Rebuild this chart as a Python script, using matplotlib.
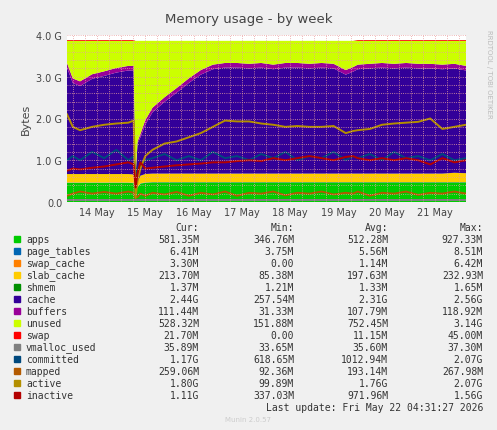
import matplotlib
matplotlib.use("Agg")
import matplotlib.pyplot as plt
import numpy as np

# time in days (day 1 = 14 May)
x = [0.38,0.5,0.65,0.9,1.15,1.4,1.65,1.76,1.8,1.84,1.9,2.0,2.15,2.4,2.65,2.9,3.15,3.4,3.65,3.9,4.15,4.4,4.65,4.9,5.15,5.4,5.65,5.9,6.15,6.3,6.4,6.65,6.9,7.15,7.4,7.65,7.9,8.15,8.4,8.64]
apps =   [0.46,0.46,0.46,0.46,0.46,0.46,0.46,0.45,0.30,0.35,0.44,0.46,0.47,0.47,0.47,0.47,0.47,0.47,0.47,0.47,0.47,0.47,0.47,0.47,0.47,0.47,0.47,0.47,0.47,0.47,0.47,0.47,0.47,0.47,0.47,0.47,0.47,0.47,0.47,0.47]
page_tables = [0.006]*40
swap_cache = [0.003]*40
slab = [0.2,0.2,0.2,0.2,0.2,0.2,0.2,0.2,0.09,0.12,0.18,0.2,0.2,0.2,0.2,0.2,0.2,0.2,0.2,0.2,0.2,0.2,0.2,0.2,0.2,0.2,0.2,0.2,0.2,0.2,0.2,0.2,0.2,0.2,0.2,0.2,0.2,0.2,0.22,0.21]
shmem = [0.0014]*40
cache_top = [3.22,2.85,2.78,2.95,3.02,3.1,3.15,3.15,0.6,1.4,1.55,1.85,2.15,2.4,2.62,2.85,3.05,3.18,3.22,3.22,3.2,3.22,3.18,3.22,3.22,3.2,3.22,3.2,3.05,3.12,3.18,3.2,3.22,3.2,3.22,3.2,3.2,3.18,3.2,3.15]
buffers = [0.11]*8+[0.03,0.05,0.08]+[0.11]*29
total = 3.86
swap = [0.02]*8+[0.0]*22+[0.02]*10
vmalloc = [0.036]*40
committed = [1.0,1.1,1.0,1.2,1.05,1.25,1.0,1.1,0.65,0.8,0.9,1.0,1.05,1.15,1.0,1.1,1.0,1.2,1.05,1.1,1.0,1.15,1.05,1.2,1.0,1.1,1.05,1.2,1.0,1.1,1.05,1.15,1.0,1.2,1.05,1.1,1.0,1.15,1.0,1.05]
mapped = [0.15,0.2,0.25,0.2,0.24,0.2,0.25,0.22,0.1,0.12,0.2,0.15,0.22,0.18,0.24,0.15,0.22,0.18,0.25,0.15,0.22,0.2,0.25,0.16,0.22,0.2,0.25,0.18,0.22,0.2,0.25,0.15,0.22,0.2,0.25,0.17,0.22,0.2,0.25,0.2]
active = [2.1,1.8,1.72,1.8,1.85,1.88,1.9,1.95,0.1,0.5,0.8,1.1,1.25,1.4,1.45,1.55,1.65,1.8,1.95,1.93,1.93,1.88,1.85,1.8,1.82,1.8,1.8,1.82,1.65,1.7,1.72,1.75,1.85,1.88,1.9,1.92,2.0,1.75,1.8,1.85]
inactive = [0.75,0.8,0.78,0.82,0.85,0.9,0.95,0.9,0.35,0.7,0.95,0.8,0.82,0.85,0.88,0.9,0.92,0.95,0.95,0.98,1.0,0.98,1.05,1.0,1.05,1.1,1.05,1.0,1.08,1.1,1.05,1.0,1.05,1.0,1.05,1.0,0.9,1.05,0.95,1.0]

names = ["apps","page_tables","swap_cache","slab_cache","shmem","cache","buffers","unused","swap","vmalloc_used","committed","mapped","active","inactive"]
colors = ["#00cc00","#0066b3","#ff8000","#ffcc00","#008f00","#330099","#990099","#ccff00","#ff0000","#808080","#00487d","#b35a00","#b38f00","#b30000"]
cur = ["581.35M","6.41M","3.30M","213.70M","1.37M","2.44G","111.44M","528.32M","21.70M","35.89M","1.17G","259.06M","1.80G","1.11G"]
mins = ["346.76M","3.75M","0.00","85.38M","1.21M","257.54M","31.33M","151.88M","0.00","33.65M","618.65M","92.36M","99.89M","337.03M"]
avgs = ["512.28M","5.56M","1.14M","197.63M","1.33M","2.31G","107.79M","752.45M","11.15M","35.60M","1012.94M","193.14M","1.76G","971.96M"]
maxs = ["927.33M","8.51M","6.42M","232.93M","1.65M","2.56G","118.92M","3.14G","45.00M","37.30M","2.07G","267.98M","2.07G","1.56G"]
tick_pos = [1,2,3,4,5,6,7,8]
tick_lab = ["14 May","15 May","16 May","17 May","18 May","19 May","20 May","21 May"]

X = np.array(x)
base = np.array(apps)+np.array(page_tables)+np.array(swap_cache)+np.array(slab)+np.array(shmem)
cache = np.clip(np.array(cache_top)-base,0,None)
bufs = np.array(buffers)
unused = total - base - cache - bufs
layers = [apps,page_tables,swap_cache,slab,shmem,cache,bufs,unused,swap]

W,H = 497,431
fig = plt.figure(figsize=(W/100,H/100),dpi=100,facecolor="#f0f0f0")
ax = fig.add_axes([67/W,1-203/H,(466-67)/W,(203-36)/H])
ax.set_facecolor("white")
ax.stackplot(X,*layers,colors=colors[:9],linewidth=0)
for v,c in zip([vmalloc,committed,mapped,active,inactive],colors[9:]):
    ax.plot(X,v,color=c,lw=1.4)
ax.set_xlim(0.38,8.64); ax.set_ylim(0,4.0)
ax.set_xticks(tick_pos); ax.set_xticklabels(tick_lab,fontsize=7,color="#444")
ax.set_yticks([0,1,2,3,4]); ax.set_yticklabels(["0.0","1.0 G","2.0 G","3.0 G","4.0 G"],fontsize=7,color="#444")
ax.set_xticks(np.arange(0.5,8.64,0.25),minor=True)
ax.set_yticks(np.arange(0,4.01,0.2),minor=True)
ax.grid(True,which="both",color="#e8a0a0",ls=":",lw=0.6)
ax.set_axisbelow(False)
ax.tick_params(length=0,which="both")
for s in ax.spines.values(): s.set_visible(False)
ax.set_ylabel("Bytes",fontsize=8,color="#444")
fig.text(0.5,1-20/H,"Memory usage - by week",ha="center",va="center",fontsize=9.5,color="#444")
fig.text(489/W,0.93,"RRDTOOL / TOBI OETIKER",rotation=270,fontsize=5,color="#bbb",ha="center",va="top")

mono = "DejaVu Sans Mono"; fs = 7
y0 = 228; dy = 12
for xc,t in [(199,"Cur:"),(294,"Min:"),(388,"Avg:"),(483,"Max:")]:
    fig.text(xc/W,1-y0/H,t,ha="right",va="center",family=mono,fontsize=fs,color="#333")
for i,n in enumerate(names):
    yy = 1-(y0+dy*(i+1))/H
    fig.patches.append(plt.Rectangle((14/W,yy-3/H),6/W,6/H,transform=fig.transFigure,color=colors[i]))
    fig.text(26/W,yy,n,va="center",family=mono,fontsize=fs,color="#333")
    for xc,vals in [(199,cur),(294,mins),(388,avgs),(483,maxs)]:
        fig.text(xc/W,yy,vals[i],ha="right",va="center",family=mono,fontsize=fs,color="#333")
fig.text(483/W,1-408/H,"Last update: Fri May 22 04:31:27 2026",ha="right",va="center",family=mono,fontsize=fs,color="#333")
fig.text(248/W,1-420/H,"Munin 2.0.57",ha="center",va="center",fontsize=5,color="#ccc")
fig.savefig("out.png",dpi=100,facecolor=fig.get_facecolor())
